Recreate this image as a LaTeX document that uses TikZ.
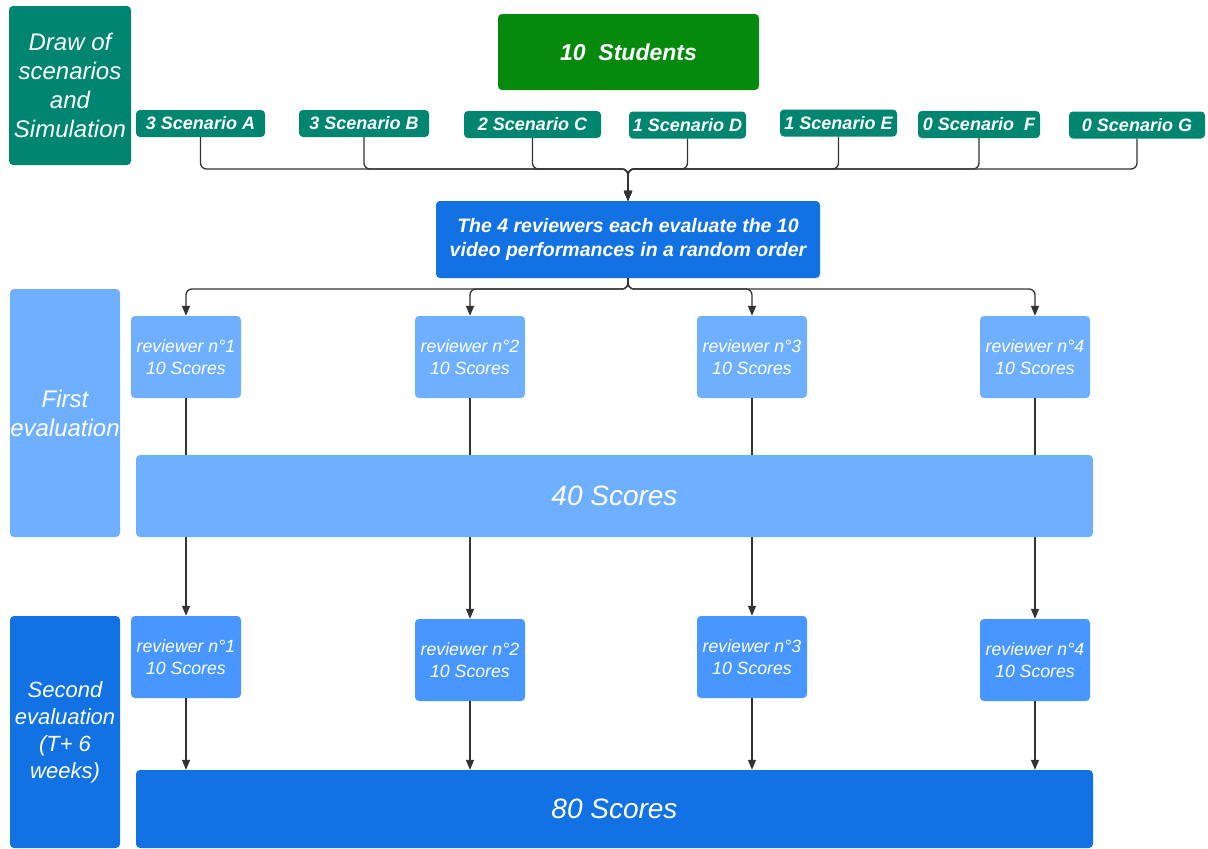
\documentclass[tikz,border=0pt]{standalone}
\usepackage{fontspec}
\setmainfont{Liberation Sans}
\usepackage{tikz}
\usetikzlibrary{arrows.meta}

\definecolor{scengreen}{RGB}{0,133,113}
\definecolor{studgreen}{RGB}{5,138,14}
\definecolor{revblue}{RGB}{18,113,227}
\definecolor{lightblue}{RGB}{110,176,255}
\definecolor{midblue}{RGB}{72,150,255}
\definecolor{linegray}{RGB}{51,51,51}

\begin{document}
\begin{tikzpicture}[x=1pt,y=-1pt,
    box/.style={rounded corners=4pt, inner sep=0pt, align=center, text=white},
    conn/.style={draw=linegray, line width=1.3pt, rounded corners=6pt},
    arr/.style={conn, -{Triangle[length=10pt,width=8pt]}}]
        \clip (0,0) rectangle (1208,849);
        % left column
        \node[box, fill=scengreen, minimum width=122pt, minimum height=159pt,
            font=\fontsize{24}{29}\selectfont\itshape] (drawsim) at (70,85.5)
            {Draw of\\scenarios\\and\\Simulation};
        \node[box, fill=lightblue, minimum width=110pt, minimum height=248pt,
            font=\fontsize{24}{29}\selectfont\itshape] (firsteval) at (65,413)
            {First\\evaluation};
        \node[box, fill=revblue, minimum width=110pt, minimum height=232pt,
            font=\fontsize{22}{27}\selectfont\itshape] (secondeval) at (65,732)
            {Second\\evaluation\\(T+ 6\\weeks)};
        % students and scenarios
        \node[box, fill=studgreen, minimum width=261pt, minimum height=76pt,
            font=\fontsize{23}{27}\selectfont\bfseries\itshape] (students) at (628.5,52)
            {10\ \ Students};
        \foreach \n/\x/\y/\w/\t in {scA/200.5/123.5/129/3 Scenario A,
            scB/364/123.5/130/3 Scenario B, scC/532.5/124.5/137/2 Scenario C,
            scD/687.5/125/117/1 Scenario D, scE/838.5/123/117/1 Scenario E,
            scF/979/124.5/122/0 Scenario\ \ F, scG/1137/125/136/0 Scenario G}
        \node[box, fill=scengreen, minimum width=\w pt, minimum height=27pt,
            font=\fontsize{18}{21}\selectfont\bfseries\itshape] (\n) at (\x,\y) {\t};
        \node[box, fill=revblue, minimum width=384pt, minimum height=77pt,
            font=\fontsize{19.5}{24}\selectfont\bfseries\itshape] (task) at (628,239.5)
            {The 4 reviewers each evaluate the 10\\video performances in a random order};
        \coordinate (bus) at (628,169);
        \foreach \n in {scA,scB,scC,scD,scE,scF,scG}
        \draw[arr] (\n.south) |- (bus) -- (task.north);
        % reviewers
        \foreach \i/\x in {1/186,2/470,3/752,4/1035}
        \node[box, fill=lightblue, minimum width=110pt, minimum height=82pt,
            font=\fontsize{17.7}{22}\selectfont\itshape] (ra\i) at (\x,357)
            {reviewer n°\i\\10 Scores};
        \foreach \i/\x/\y in {1/186/657,2/470/660,3/752/657,4/1035/660}
        \node[box, fill=midblue, minimum width=110pt, minimum height=82pt,
            font=\fontsize{17.7}{22}\selectfont\itshape] (rb\i) at (\x,\y)
            {reviewer n°\i\\10 Scores};
        \coordinate (fork) at (628,289);
        \foreach \i in {1,...,4}
        \draw[arr] (task.south) -- (fork) -| (ra\i.north);
        \foreach \i in {1,...,4}
        \draw[arr] (ra\i) -- (rb\i);
        % totals
        \node[box, fill=lightblue, minimum width=957pt, minimum height=82pt,
            font=\fontsize{28}{32}\selectfont\itshape] (tot40) at (614.5,496) {40 Scores};
        \node[box, fill=revblue, minimum width=957pt, minimum height=78pt,
            font=\fontsize{28}{32}\selectfont\itshape] (tot80) at (614.5,809) {80 Scores};
        \foreach \i in {1,...,4}
        \draw[arr] (rb\i) -- (rb\i |- tot80.north);
\end{tikzpicture}
\end{document}
